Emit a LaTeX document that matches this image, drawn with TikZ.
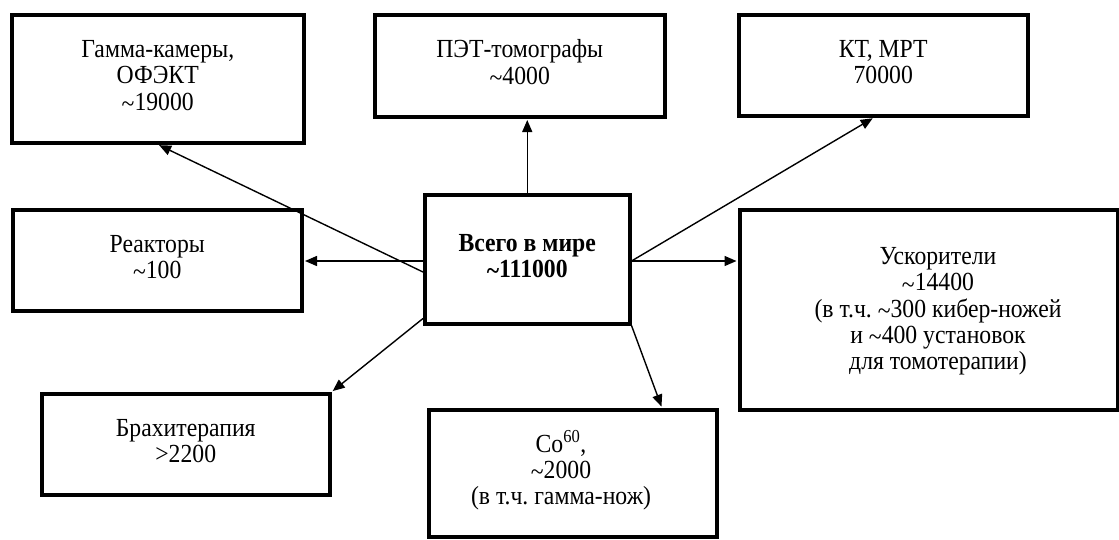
\documentclass[tikz,border=0pt]{standalone}
\usepackage{fontspec}
\setmainfont{Liberation Serif}
\usetikzlibrary{arrows.meta,calc}
\frenchspacing
\newcommand\vtxt[1]{\scalebox{1}[1.1]{\begin{tabular}{@{}c@{}}#1\end{tabular}}}
\newcommand\tld{\raisebox{-0.08em}{\textasciitilde}}
\begin{document}
\begin{tikzpicture}[x=1pt,y=-1pt,
  box/.style={draw,line width=3.5pt,rectangle,anchor=north west,inner sep=0pt,
    align=center,font=\fontsize{23.7}{23.7}\selectfont},
  lbl/.style={align=center,font=\fontsize{23.7}{23.7}\selectfont,inner sep=0pt},
  arr/.style={line width=1.4pt,shorten >=1.5pt,-{Triangle[length=12pt,width=10pt]}}]
\useasboundingbox (0,0) rectangle (1119,539);
\node[box,minimum width=292pt,minimum height=128pt] (g) at (10,13)
  {\vtxt{Гамма-камеры,\\ОФЭКТ\\\tld19000}};
\node[box,minimum width=290pt,minimum height=102pt] (p) at (373,13)
  {\vtxt{ПЭТ-томографы\\\tld4000}};
\node[box,minimum width=289pt,minimum height=101pt] (k) at (737,13)
  {\vtxt{КТ, МРТ\\70000}};
\node[box,minimum width=289pt,minimum height=101pt] (r) at (11,208)
  {\vtxt{Реакторы\\\tld100}};
\node[box,minimum width=205pt,minimum height=129pt] (c) at (423,193)
  {\vtxt{\textbf{Всего в мире}\\\textbf{\tld111000}}};
\node[box,minimum width=378pt,minimum height=200pt] (a) at (738,208) {};
\node[lbl] (at) at (938,312)
  {\vtxt{Ускорители\\\tld14400\\(в т.ч. \tld300 кибер-ножей\\и \tld400 установок\\для томотерапии)}};
\node[box,minimum width=288pt,minimum height=101pt] (b) at (40,392)
  {\vtxt{Брахитерапия\\>2200}};
\node[box,minimum width=288pt,minimum height=127pt] (co) at (427,408) {};
\node[lbl] (cot) at (561,471)
  {\vtxt{Co\textsuperscript{60},\\\tld2000\\(в т.ч. гамма-нож)}};
\coordinate (ce) at ($(c.north east)+(0,68)$);
\coordinate (cw) at ($(c.north west)+(0,68)$);
\draw[arr] ($(c.north west)+(0,79)$) -- (g.south);
\draw[arr] (c.north) -- (c.north |- p.south);
\draw[arr] (ce) -- ($(k.south west)+(137,0)$);
\draw[arr] (cw) -- (cw -| r.east);
\draw[arr] (ce) -- (ce -| a.west);
\draw[arr] ($(c.south west)+(0,-7)$) -- (b.north east);
\draw[arr] (c.south east) -- ($(co.north west)+(235,0)$);
\end{tikzpicture}
\end{document}
